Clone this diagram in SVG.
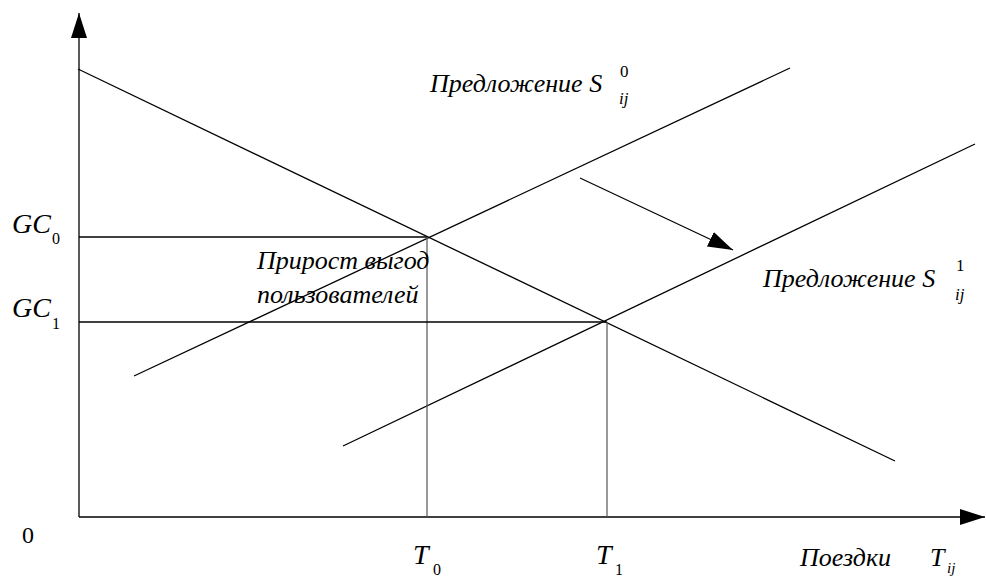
<svg xmlns="http://www.w3.org/2000/svg" width="986" height="578" viewBox="0 0 986 578">
<style>
.ln{stroke:#000;stroke-width:1.3;fill:none}
.gl{stroke:#555;stroke-width:1.2;fill:none}
text{fill:#000}
.i{font-style:italic}
</style>
<defs>
<marker id="ah" markerUnits="userSpaceOnUse" markerWidth="26" markerHeight="18" refX="25" refY="8" orient="auto">
<path d="M0,0 L25,8 L0,16 Z" fill="#000"/>
</marker>
</defs>
<g id="connectors">
<line id="y-axis" class="ln" x1="79" y1="517" x2="79" y2="13" marker-end="url(#ah)"/>
<line id="x-axis" class="ln" x1="79" y1="517" x2="985" y2="517" marker-end="url(#ah)"/>
<line id="demand" class="ln" x1="78" y1="69" x2="895" y2="461"/>
<line id="supply0" class="ln" x1="134" y1="376" x2="790" y2="68"/>
<line id="supply1" class="ln" x1="343" y1="446" x2="975" y2="144"/>
<line class="ln" x1="79" y1="237" x2="427" y2="237"/>
<line class="gl" x1="427" y1="237" x2="427" y2="517"/>
<line class="ln" x1="79" y1="322" x2="607" y2="322"/>
<line class="gl" x1="607" y1="322" x2="607" y2="517"/>
<line id="shift" class="ln" x1="580" y1="178" x2="733" y2="250" marker-end="url(#ah)"/>
</g>
<g font-family="Liberation Serif, DejaVu Serif, serif">
<g id="gc0"><text class="i" x="12" y="233" font-size="28">GC</text><text x="52" y="244" font-size="16">0</text></g>
<g id="gc1"><text class="i" x="12" y="317" font-size="28">GC</text><text x="52" y="329" font-size="16">1</text></g>
<g id="origin"><text x="22" y="543" font-size="24">0</text></g>
<g id="t0"><text class="i" x="413" y="564" font-size="28">T</text><text x="433" y="575" font-size="16">0</text></g>
<g id="t1"><text class="i" x="596" y="564" font-size="28">T</text><text x="615" y="575" font-size="16">1</text></g>
<g id="trips"><text class="i" x="800" y="566" font-size="26">Поездки</text><text class="i" x="930" y="566" font-size="26">T</text><text class="i" x="947" y="573" font-size="15">ij</text></g>
<g id="s0-label"><text class="i" x="430" y="92" font-size="26">Предложение S</text>
<text x="620" y="77" font-size="17">0</text>
<text class="i" x="619" y="104" font-size="17">ij</text></g>
<g id="s1-label"><text class="i" x="763" y="287" font-size="26">Предложение S</text>
<text x="956" y="271" font-size="17">1</text>
<text class="i" x="955" y="300" font-size="17">ij</text></g>
<g id="gain"><text class="i" x="257" y="269" font-size="26">Прирост выгод</text>
<text class="i" x="257" y="303" font-size="26">пользователей</text></g>
</g>
</svg>
